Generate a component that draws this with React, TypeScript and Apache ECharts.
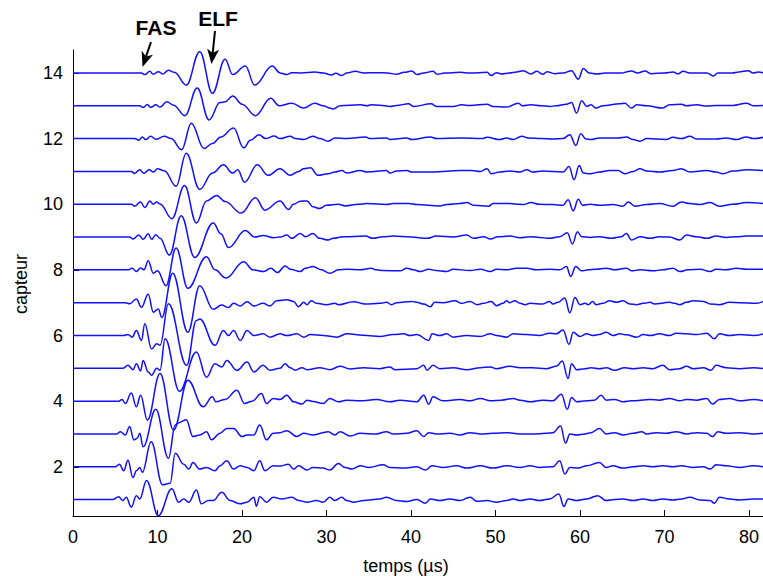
import React, { useEffect, useRef } from "react";
import * as echarts from "echarts";

// Tick labels
const X_TICKS = [0, 10, 20, 30, 40, 50, 60, 70, 80];
const Y_TICKS = [2, 4, 6, 8, 10, 12, 14];
const X_NAME = "temps (µs)";
const Y_NAME = "capteur";

// Each capteur: [time (µs), amplitude relative to its baseline]
const capteur14: [number, number][] = [[0,0],[8.1,0],[8.5,-0.05],[9.1,0.05],[9.5,-0.04],[10.1,0.04],[10.6,-0.03],[11.3,0.08],[12.0,0.02],[13.4,-0.37],[15.0,0.65],[16.5,-0.62],[18.0,0.42],[18.9,-0.05],[20.4,0.21],[21.5,-0.37],[23.6,0.21],[24.5,0.0],
[25.3,-0.05],[25.9,0.01],[27,0],[28.6,0.03],[29.6,0],[30.6,-0.06],[31.1,-0.01],[31.8,-0.08],[32.4,0],[33.4,0.05],[34.4,0],[36,0.01],[37.2,0],[38.3,-0.04],[39.2,0.02],[40.1,0.06],[40.7,-0.05],[41.5,0],[42.6,0.05],[43.1,-0.04],[44,0],[45.8,0.02],[47,0],[49,0.02],[49.5,-0.08],[50.1,0.01],[50.7,-0.03],[51.6,0],[52.5,0.03],
[53.3,0.07],[54.2,-0.03],[54.9,0.05],[55.6,-0.04],[56.1,0.04],[57,-0.02],[58,0],[59,0.07],[59.8,-0.19],[60.4,0.14],[61.1,0.0],[62,-0.03],[63,0],[65,0],[65.6,0.04],[66.1,0.06],[66.8,0],[67.7,0.06],[68.4,-0.02],[70,0],[71,0.03],[71.6,-0.03],[72.2,0.05],[73,0],[75,0],[75.8,-0.09],[76.3,0.0],[78,0],[78.8,0.03],[79.9,0.07],[80.5,0],[81.1,0.03],[81.7,0]];

const capteur13: [number, number][] = [[0,0],[7.9,0],[8.3,-0.05],[8.8,0.04],[9.2,-0.05],[9.8,0.03],[10.3,-0.04],[11.1,0.12],[11.9,0.02],[13.25,-0.30],[14.7,0.54],[16.1,-0.43],[17.4,0.1],[18.0,0.12],[18.9,0.3],[20.0,0.05],[21.6,-0.3],[23.4,0.23],[24.4,0.0],
[25.9,0.08],[27.3,-0.07],[28.6,0.08],[29.6,0],[30.4,-0.07],[30.8,-0.1],[31.6,0],[34,0.03],[34.8,0],[35.3,0.03],[36.3,0.02],[37.5,-0.02],[38.3,0.01],[39.7,0.06],[40.3,-0.02],[42.4,0.06],[43.0,-0.02],[45,-0.02],[46,0.03],[47,0.01],[49,0.05],[49.7,-0.02],[51.3,-0.04],
[52.7,0.08],[53.2,0],[54.2,0.03],[55.4,0],[56.4,-0.02],[57.2,0],[58.4,0.05],[59,0.1],[59.6,-0.22],[60.2,0.15],[60.8,-0.02],[61.3,0.03],[61.9,-0.07],[62.7,0],[64.7,0.06],[65.3,0.08],[66.1,-0.07],[66.7,0.03],[67.9,0],[69.8,-0.07],[70.6,0.03],[72,0.05],[72.6,0],[73.8,0.03],[75,-0.01],[76.1,0.01],[78.1,0.01],[79.7,0.08],[80.5,0],[81.7,0.01]];

const capteur12: [number, number][] = [[0,0],[7.3,0],[7.8,-0.05],[8.2,0.05],[8.6,-0.03],[9.2,0.07],[9.8,-0.02],[10.8,0.07],[11.6,0.0],[12.85,-0.34],[14.0,0.47],[15.5,-0.3],[16.5,-0.15],[17.5,0.05],[19.0,0.32],[20.2,-0.28],[21.0,-0.05],[22.0,0.12],[22.8,0.0],[23.8,0.08],[24.5,0.0],
[25.7,0.07],[26.3,0],[27.3,-0.03],[28.4,0.07],[29.2,0],[30.2,-0.08],[31,0.02],[32.4,0],[34.6,0.05],[35.2,0],[37.1,0.02],[37.5,-0.03],[39.5,0.02],[40.1,-0.03],[42.3,0.05],[43,0],[46,0.02],[48.4,0],[49,0.04],[50.5,-0.03],[51.3,0.02],[52.1,-0.03],
[53.1,0.07],[53.9,0.02],[55.4,0],[56.8,-0.01],[58,0],[58.8,0.12],[59.5,-0.21],[60.1,0.15],[60.7,-0.01],[61.3,-0.03],[62.3,0.02],[64.5,0.02],[65.5,0.05],[66.3,-0.03],[67.1,-0.08],[67.9,0],[70.2,-0.03],[71,0.04],[72,0],[73,0.07],[73.8,-0.01],[76.1,-0.01],[77.3,0.02],[78.5,-0.03],[79.7,0.05],[80.5,0],[81.7,0.04]];

const capteur11: [number, number][] = [[0,0],[6.9,0],[7.3,-0.06],[7.9,0.05],[8.4,-0.06],[9.0,0.05],[9.5,-0.02],[10.0,0.08],[10.8,0.02],[12.2,-0.45],[13.4,0.55],[15.0,-0.55],[16.5,-0.05],[17.8,0.2],[18.9,-0.05],[19.5,0.05],[20.3,-0.33],[21.8,0.2],[23.1,-0.12],[24.5,0.08],
[25.7,-0.12],[26.7,0],[27.3,0.08],[28.1,0.11],[29,-0.12],[30.2,-0.07],[31,-0.02],[31.8,0.03],[32.4,-0.05],[34,0.03],[34.8,-0.02],[37.1,0.03],[37.5,-0.05],[38.3,0.01],[39.5,0.03],[40.1,-0.02],[42.6,-0.02],[45.8,0.03],[47.2,0.03],[48.2,0],[49,0.08],[49.5,-0.07],[50.5,-0.02],[51.7,0.01],[52.9,-0.02],
[53.7,0.05],[54.4,-0.02],[55.6,0.01],[58,-0.02],[58.7,0.15],[59.3,-0.25],[59.9,0.18],[60.4,-0.05],[61.2,-0.07],[62.3,-0.02],[63.5,0.03],[64.5,0.03],[65.3,-0.07],[66.3,0],[67.1,0.08],[67.9,0.01],[69.4,-0.02],[71,0.03],[72,0.08],[73,-0.02],[75,0.03],[76.1,-0.02],[76.9,-0.07],[78.1,0.01],[79.7,0.05],[81.7,0.03]];

const capteur10: [number, number][] = [[0,0],[6.9,0],[7.3,-0.06],[8.0,0.07],[8.5,-0.1],[9.1,0.1],[9.5,0.0],[9.9,0.07],[10.3,0.01],[11.7,-0.44],[13.2,0.57],[14.6,-0.57],[15.8,0.1],[17.0,0.27],[18.0,0.08],[19.9,-0.27],[21.6,0.2],[22.7,-0.18],[24.5,0.1],
[25.5,-0.16],[26.1,0],[26.9,0.09],[27.7,0.1],[28.4,-0.08],[29.2,-0.13],[30,-0.03],[31.4,0],[32.2,-0.05],[33.8,0],[34.8,0.02],[37.1,-0.01],[37.9,0.02],[39.7,0.02],[40.7,-0.01],[43.4,-0.05],[44.2,-0.01],[45.8,0.02],[46.6,0.05],[47.4,-0.03],[49.2,-0.06],[49.7,0.02],[51.7,0.02],[52.9,0],
[53.3,-0.01],[54.2,0.05],[55.2,0],[56.8,-0.01],[58,-0.03],[58.6,0.14],[59.2,-0.2],[59.8,0.15],[60.3,-0.03],[61.2,0],[62.3,-0.03],[63.9,-0.01],[65.1,-0.06],[65.7,0.07],[66.5,-0.06],[67.9,-0.01],[69.4,0.02],[71,-0.06],[72,0.07],[73,0.02],[74.2,-0.01],[75.4,0.05],[76.5,-0.06],[78.1,0],[79.7,0.05],[81.7,0.02]];

const capteur9: [number, number][] = [[0,0],[6.7,0],[7.1,-0.06],[7.8,0.06],[8.3,-0.07],[8.9,0.1],[9.3,-0.07],[9.8,0.07],[10.3,-0.04],[11.4,-0.55],[12.8,0.65],[14.4,-0.62],[16.6,0.43],[17.5,0.1],[18.4,-0.32],[20.4,0.2],[21.5,0.0],[22.5,0.05],[23.7,-0.02],[24.5,0.0],
[25.3,0.06],[25.9,-0.04],[26.9,0.11],[27.5,0.01],[28.4,0.11],[29.2,-0.04],[30.2,-0.09],[30.8,-0.04],[32,0.01],[34.6,0.03],[35.5,-0.04],[36.7,0.01],[37.9,0.03],[40,0],[41.9,-0.04],[43,0.03],[45,0],[46.6,0.06],[47.4,-0.04],[48.6,0.01],[49.4,-0.06],[50.3,0.01],[51.7,0.03],
[52.9,-0.02],[54.1,0.01],[55.2,-0.01],[56.4,-0.04],[57.6,0.01],[58.5,0.13],[59.1,-0.21],[59.7,0.16],[60.2,0.01],[61.2,-0.01],[62.3,0.01],[63.7,-0.04],[64.9,0.01],[65.5,0.11],[66.1,-0.09],[67.1,0.01],[68.3,-0.04],[69.4,0.01],[70.6,0],[71.8,-0.09],[72.6,0.06],[73.8,0.01],[75,-0.04],[76.1,0.03],[77.3,-0.01],[78.5,0.01],[79.7,0.03],[81.7,0.03]];

const capteur8: [number, number][] = [[0,0],[6.5,0],[7.0,0.05],[7.5,-0.05],[8.0,0.06],[8.4,0.0],[8.9,0.28],[9.5,-0.1],[10.0,-0.03],[11.0,-0.48],[12.2,0.67],[13.6,-0.56],[15.8,0.4],[16.8,0.0],[18.1,-0.25],[20.2,0.25],[21.3,0.0],[22.6,-0.05],[23.4,0.05],[24.2,-0.08],
[25.1,0.12],[25.7,0.02],[26.9,-0.05],[27.5,0.05],[28.4,0.1],[29.4,0],[30.4,-0.1],[31.4,0],[32.4,0.02],[34,0],[35.3,0.05],[35.9,0],[36.7,-0.02],[38.7,-0.03],[39.5,0.05],[40.3,0],[41.1,-0.05],[42.1,0.02],[43,-0.02],[44.2,-0.05],[45,0.02],[47,-0.02],[48.2,0.02],[49.4,-0.05],[50.1,0.02],[51.3,0],[52.5,0.05],
[53.7,0.05],[54.8,0],[56.4,0.02],[57.6,0],[58.4,0.1],[58.9,-0.2],[59.5,0.1],[60.2,-0.03],[61,0],[61.9,0.02],[63.1,0.05],[64.1,0],[65.5,0.05],[66.1,-0.03],[67.1,0],[68.6,-0.03],[69.8,0],[71,0.05],[71.8,-0.05],[72.8,0],[74.2,0.02],[75.4,-0.05],[76.1,0.02],[77.3,0],[78.5,0.05],[79.7,0.02],[81.7,0.02]];

const capteur7: [number, number][] = [[0,0],[6.2,0],[6.7,-0.03],[7.5,0.11],[8.1,-0.14],[8.9,0.26],[9.5,-0.29],[10.1,-0.19],[10.5,-0.45],[11.8,0.9],[13.6,-0.9],[15.0,0.52],[16.6,-0.2],[17.6,-0.07],[18.4,-0.15],[19.0,-0.02],[19.8,-0.1],[20.6,0.03],[21.4,-0.1],[22.5,-0.02],[23.3,-0.1],[24.1,0.06],
[25.3,0.09],[26.1,0.04],[26.7,-0.12],[27.3,0.01],[27.7,-0.06],[28.2,0.06],[28.8,-0.02],[30,-0.06],[31,-0.02],[31.4,-0.06],[33.2,0.03],[34.6,-0.04],[36.3,-0.02],[37.1,0.01],[37.7,-0.06],[38.3,0],[40.1,0.04],[40.7,0.01],[41.5,-0.04],[42.3,-0.12],[42.8,0.01],[43.8,0],[45.2,0.06],[46,-0.02],[47,0.04],[47.8,-0.06],[48.6,-0.02],[49.5,0.04],[50.1,-0.09],[50.9,-0.02],[51.3,0.06],[51.7,0],[52.3,0.06],
[52.9,-0.02],[53.5,-0.06],[54.1,-0.02],[55.6,-0.04],[56.4,0.04],[56.8,-0.04],[57.4,0.01],[58.2,0.14],[58.8,-0.31],[59.4,0.16],[60,-0.06],[60.6,-0.02],[61,-0.06],[61.5,0.04],[61.9,-0.06],[62.7,-0.02],[63.5,0.06],[64.3,0.01],[65.1,0.06],[65.9,-0.04],[66.7,-0.06],[67.5,-0.02],[68.3,0.01],[68.8,-0.04],[70.6,0.01],[71.2,-0.02],[71.8,-0.06],[72.6,0.01],[73.4,0.06],[74.6,0.04],[75.4,-0.04],[76.5,-0.06],[77.7,0.01],[78.9,0],[80.9,-0.02],[81.7,0.04]];

const capteur6: [number, number][] = [[0,0],[6.0,0],[6.5,0.03],[7.0,-0.05],[7.5,0.15],[8.1,-0.15],[8.5,0.36],[9.3,-0.41],[9.9,-0.25],[10.3,-0.3],[11.3,0.97],[13.45,-0.91],[14.6,0.46],[15.0,0.5],[16.8,-0.3],[17.8,0.15],[18.4,0.0],[19.0,0.15],[19.8,-0.15],[20.6,0.15],[21.4,0.0],[22.5,0.05],[23.3,-0.05],[24.5,0.05],
[25.3,0],[26.5,0.05],[27.3,-0.05],[28.1,0.03],[29.6,0],[31.2,-0.05],[32.4,0.05],[34.8,0],[36.3,-0.03],[37.9,0.03],[39.1,0.05],[39.9,0],[40.7,0.03],[42.1,-0.15],[42.5,0.05],[43.4,0],[44.2,0.05],[45,-0.05],[46.6,0],[48.2,-0.03],[49.4,0.05],[50.1,0],[51.3,-0.05],[52.1,0.05],
[53.7,0.03],[55.2,0],[56.4,0.07],[57.2,0.05],[58,0.17],[58.7,-0.27],[59.2,0.1],[60,-0.03],[60.8,0.05],[61.5,0],[62.3,0.03],[63.1,0.1],[63.9,0],[64.7,0.05],[65.5,0.02],[66.7,-0.05],[67.5,0.03],[68.3,0],[69.4,0.05],[70.6,0],[71.4,0.07],[72.6,0.05],[73.8,0.03],[75,0.07],[75.9,-0.1],[76.5,0.05],[77.7,0],[78.9,0.03],[80.5,0],[81.7,0.05]];

const capteur5: [number, number][] = [[0,0],[5.9,0],[6.5,0.09],[7.1,-0.04],[7.5,0.14],[8.0,-0.08],[8.3,0.24],[8.9,-0.11],[9.3,-0.21],[9.9,0.0],[10.3,-0.06],[10.9,0.9],[12.6,-0.7],[14.6,0.5],[15.8,-0.27],[16.8,0.14],[17.6,0.04],[18.2,0.24],[19.4,-0.06],[20.6,0.19],[21.4,-0.11],[22.5,0.09],[23.3,-0.06],[24.5,0.0],
[25.1,0.14],[25.7,0.02],[26.3,-0.06],[27.1,0.02],[27.7,-0.04],[29.2,0.02],[30.4,-0.04],[31.6,0.06],[32.8,-0.02],[34.4,0.02],[36.3,-0.01],[37.5,0.04],[38.1,-0.04],[40.7,-0.01],[41.5,0.09],[41.9,-0.06],[42.6,0.09],[43.4,-0.01],[45,0.02],[46.6,-0.04],[48.2,0.02],[49.4,0.04],[50.1,-0.01],[51.7,0.06],[52.9,0.02],
[54.4,0.02],[56,-0.01],[57.2,0.06],[57.9,0.22],[58.6,-0.31],[59,0.14],[59.6,-0.04],[60.6,-0.01],[61.3,0.02],[62.3,-0.01],[63.1,0.02],[64.1,-0.06],[65.3,0.02],[66.3,-0.01],[67.5,0.02],[68.6,-0.01],[69.8,0.09],[70.6,-0.04],[71.8,-0.01],[72.6,0.06],[73.4,-0.01],[74.6,0.02],[75.5,-0.06],[76.1,0.09],[77.3,0.02],[78.9,-0.01],[80.5,0.02],[81.7,-0.01]];

const capteur4: [number, number][] = [[0,0],[5.4,0],[5.8,0.05],[6.2,-0.07],[6.9,0.25],[7.5,-0.17],[8.0,0.18],[8.8,-0.58],[10.3,0.84],[11.9,-0.88],[13.6,0.64],[15.4,-0.17],[16.5,0.13],[16.9,-0.02],[18.0,0.05],[19.4,0.33],[20.3,-0.07],[21.2,0.0],[22.3,0.23],[22.9,-0.07],[23.7,0.08],
[24.5,0.05],[25.3,0.18],[26.1,-0.02],[27.1,-0.09],[27.7,0.03],[28.4,-0.01],[29.6,-0.07],[30.4,0.08],[31.4,-0.02],[32.4,0.03],[34,0.01],[35.9,0.05],[37.5,-0.02],[38.7,0.03],[40.7,-0.02],[41.5,0.18],[42.1,-0.09],[42.6,0.13],[43.8,0.01],[45.8,0.05],[47,0.01],[48.2,0.08],[49.4,0.01],[50.7,0.03],[52.1,0.08],[52.9,0.03],
[54.1,-0.02],[55.6,0.03],[56.8,0.01],[57.8,0.21],[58.5,-0.25],[59,0.11],[59.6,-0.02],[60.8,0.01],[61.7,0.03],[62.5,0.18],[63.1,0.03],[64.1,0.05],[65.1,-0.02],[66.1,0.01],[68.3,0.05],[69.4,0.03],[70.6,0.08],[71.8,0.01],[72.6,0.05],[73.8,0.03],[75,0.08],[75.7,-0.09],[76.5,0.05],[77.7,0.08],[78.9,0.01],[80.5,0.05],[81.7,0.01]];

const capteur3: [number, number][] = [[0,0],[5.2,0],[5.6,0.07],[6.2,-0.03],[6.7,0.23],[7.2,-0.18],[7.6,-0.13],[7.9,0.02],[8.3,-0.39],[9.8,0.75],[11.3,-0.74],[12.1,0.27],[12.4,0.33],[13.4,0.43],[14.2,-0.08],[15.0,-0.03],[15.8,0.07],[16.4,-0.18],[17.4,0.02],[18.2,0.17],[19.0,0.17],[20.0,-0.08],[20.6,-0.03],[21.4,-0.03],[22.1,0.27],[22.9,-0.18],[23.7,0.02],
[24.5,0.04],[25.3,0.1],[26.5,-0.08],[27.3,0.02],[28.4,-0.03],[30.2,0.07],[31,-0.03],[31.6,0.07],[32.8,-0.06],[34,0.02],[35.9,0],[37.1,0.07],[37.9,0],[39.5,0.02],[40.7,0.1],[41.5,-0.08],[42.1,0.04],[43,0],[44.6,0.02],[45.8,-0.03],[47,0.04],[48.2,0],[49.7,0.02],[51.3,0.04],[52.9,0],
[54.4,0],[56,0.02],[56.8,0.04],[57.7,0.24],[58.3,-0.28],[58.8,0],[59.6,-0.03],[60.6,0],[61.3,0.04],[62.3,0.17],[63.1,0],[64.1,0.04],[65.1,-0.03],[66.3,0.02],[67.3,0.07],[67.9,0],[69,0.04],[70.2,0.02],[71.4,0.07],[72.6,0],[73.8,0.04],[75,0.02],[75.7,-0.08],[76.3,0.07],[77.3,0.02],[78.9,0.04],[80.5,0],[81.7,0.02]];

const capteur2: [number, number][] = [[0,0],[5.0,0],[5.5,0.08],[6.0,-0.12],[6.5,0.2],[7.1,-0.33],[7.5,-0.12],[7.9,-0.02],[8.2,-0.17],[9.25,0.76],[10.6,-0.55],[11.5,-0.5],[12.1,0.41],[13.1,0.08],[13.7,-0.07],[14.2,0.13],[15.0,-0.07],[15.8,-0.02],[16.8,-0.12],[17.4,0.03],[18.2,0.18],[19.0,-0.07],[19.8,0.03],[20.6,-0.02],[21.4,-0.12],[22.1,0.18],[22.7,-0.12],[23.7,0.03],[24.5,0.02],
[25.5,0.08],[26.1,-0.07],[26.7,0.03],[27.7,-0.1],[28.4,-0.02],[29.6,-0.04],[30.4,-0.1],[31.4,0.1],[32.2,-0.02],[33,-0.07],[34,0.03],[35,-0.02],[36.7,0.06],[37.5,-0.02],[39.1,-0.04],[40.7,0],[41.7,-0.1],[42.5,0.03],[43.8,-0.02],[45.4,0.03],[46.6,-0.04],[48.2,0.03],[49.7,-0.04],[51.3,0.03],[52.9,-0.02],
[54.1,0.03],[55.2,-0.02],[56.8,0],[57.6,0.18],[58.2,-0.22],[58.8,-0.02],[59.8,-0.04],[60.8,0.03],[62.3,0.13],[63.1,-0.02],[63.9,0.03],[65.1,-0.04],[66.3,0],[67.5,0.03],[68.6,0],[69.8,0.03],[71,0],[72,0.03],[73.4,-0.02],[74.6,0],[75.4,-0.07],[76.1,0.06],[77.3,0.03],[78.9,-0.02],[80.5,0.03],[81.7,0]];

const capteur1: [number, number][] = [[0,0],[4.7,0],[5.4,0.09],[5.9,-0.03],[6.3,0.07],[6.9,-0.23],[7.5,0.12],[7.9,0.02],[8.7,0.58],[10.1,-0.49],[11.7,0.33],[12.5,-0.08],[13.1,0.02],[13.7,-0.08],[14.6,0.29],[15.2,-0.13],[16.0,-0.03],[16.6,-0.03],[17.6,0.22],[18.6,-0.03],[19.8,-0.13],[20.6,-0.08],[21.4,0.07],[21.7,-0.2],[22.1,0.09],[22.9,-0.08],[23.7,0.07],[24.7,0.02],
[25.9,0.07],[26.7,-0.03],[27.7,-0.08],[28.8,-0.03],[29.6,-0.08],[30.4,0.07],[31,-0.03],[31.8,0.07],[32.4,-0.03],[33.2,-0.08],[34.4,-0.03],[36.3,0.02],[37.1,0.07],[38.3,-0.03],[39.5,-0.06],[40.7,0],[41.7,-0.11],[42.3,0.02],[43.4,-0.03],[44.6,0.02],[45.8,-0.03],[47,0.07],[47.8,-0.05],[49,-0.03],[50.1,-0.08],[51.3,-0.03],[52.1,0.02],[52.9,-0.03],
[54.1,0.02],[55.2,-0.03],[56.4,0.02],[57.5,0.17],[58.1,-0.21],[58.6,0.02],[59.6,-0.03],[60.8,0.02],[62.1,0.12],[63.1,-0.03],[64.1,0],[65.1,0.02],[66.3,-0.03],[67.5,0.02],[68.6,-0.03],[69.8,0.02],[71,-0.01],[72,0.02],[73,0.07],[74.2,-0.01],[75.4,-0.03],[75.9,-0.11],[76.5,0.07],[77.7,0.02],[78.9,-0.01],[80.5,0.02],[81.7,0.02]];

const CAPTEURS = [capteur1, capteur2, capteur3, capteur4, capteur5, capteur6, capteur7, capteur8, capteur9, capteur10, capteur11, capteur12, capteur13, capteur14];

const FONT = "'Liberation Sans', Arial, Helvetica, sans-serif";

export default function App() {
  const ref = useRef<HTMLDivElement>(null);
  useEffect(() => {
    if (!ref.current) return;
    const chart = echarts.init(ref.current, null, { renderer: "svg" });
    const series = CAPTEURS.map((trace, i) => ({
      type: "line",
      name: "capteur " + (i + 1),
      data: trace.map(([t, a]) => [t, i + 1 + a]),
      showSymbol: false,
      symbol: "none",
      smooth: 0.4,
      smoothMonotone: "x",
      clip: false,
      lineStyle: { color: "#1010ff", width: 1.5 },
      silent: true,
    }));
    const arrowHead = (tip: number[], from: number[]) => {
      const dx = tip[0] - from[0];
      const dy = tip[1] - from[1];
      const len = Math.hypot(dx, dy);
      const ux = dx / len, uy = dy / len;
      const px = -uy, py = ux;
      const L = 15, W = 6, N = 11;
      const bx = tip[0] - L * ux, by = tip[1] - L * uy;
      return [
        tip,
        [bx + W * px, by + W * py],
        [tip[0] - N * ux, tip[1] - N * uy],
        [bx - W * px, by - W * py],
      ];
    };
    const fasFrom = [151, 42], fasTip = [142.5, 67];
    const elfFrom = [215, 31], elfTip = [211.5, 64];
    chart.setOption({
      animation: false,
      grid: { left: 73, right: 0, top: 50, bottom: 60, containLabel: false },
      xAxis: {
        type: "value",
        min: 0,
        max: 81.66,
        axisLine: { show: true, onZero: false, lineStyle: { color: "#000", width: 1 } },
        axisTick: { show: true, inside: true, length: 6, customValues: X_TICKS, lineStyle: { color: "#000" } },
        axisLabel: { customValues: X_TICKS, fontSize: 18, color: "#000", margin: 12, fontFamily: FONT },
        splitLine: { show: false },
      },
      yAxis: {
        type: "value",
        min: 0.5,
        max: 14.7,
        axisLine: { show: true, onZero: false, lineStyle: { color: "#000", width: 1 } },
        axisTick: { show: true, inside: true, length: 6, customValues: Y_TICKS, lineStyle: { color: "#000" } },
        axisLabel: { customValues: Y_TICKS, fontSize: 18, color: "#000", margin: 10, fontFamily: FONT },
        splitLine: { show: false },
      },
      series,
      graphic: [
        { type: "text", x: 406, y: 566, style: { text: X_NAME, fontSize: 18, fontFamily: FONT, fill: "#000", align: "center", verticalAlign: "middle" } },
        { type: "text", x: 21, y: 284, rotation: Math.PI / 2, style: { text: Y_NAME, fontSize: 18, fontFamily: FONT, fill: "#000", align: "center", verticalAlign: "middle" } },
        { type: "text", x: 156, y: 27, style: { text: "FAS", fontSize: 21, fontWeight: "bold", fontFamily: FONT, fill: "#000", align: "center", verticalAlign: "middle" } },
        { type: "text", x: 218, y: 18, style: { text: "ELF", fontSize: 21, fontWeight: "bold", fontFamily: FONT, fill: "#000", align: "center", verticalAlign: "middle" } },
        { type: "line", shape: { x1: fasFrom[0], y1: fasFrom[1], x2: fasTip[0] + 3, y2: fasTip[1] - 9 }, style: { stroke: "#000", lineWidth: 2 } },
        { type: "polygon", shape: { points: arrowHead(fasTip, fasFrom) }, style: { fill: "#000" } },
        { type: "line", shape: { x1: elfFrom[0], y1: elfFrom[1], x2: elfTip[0] + 1, y2: elfTip[1] - 9 }, style: { stroke: "#000", lineWidth: 2 } },
        { type: "polygon", shape: { points: arrowHead(elfTip, elfFrom) }, style: { fill: "#000" } },
      ],
    });
    return () => chart.dispose();
  }, []);
  return (
    <div
      ref={ref}
      style={{ position: "absolute", left: 0, top: 0, width: 763, height: 576, background: "#fff" }}
    />
  );
}
